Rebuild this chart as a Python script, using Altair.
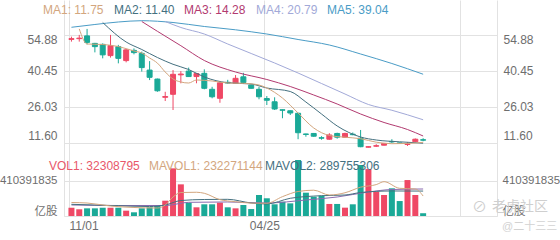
import altair as alt
import pandas as pd

# ---------------- data ----------------
week_idx = list(range(46))
opens  = [53.0, 53.3, 54.4, 51.4, 51.0, 46.5, 50.1, 44.5, 48.6, 47.4,
          40.7, 37.1, 29.8, 31.0, 38.8, 40.3, 38.1, 39.4, 33.0, 29.4,
          35.8, 35.4, 38.0, 34.7, 33.0, 29.3, 28.0, 24.8, 24.4, 23.4,
          15.1, 15.3, 13.6, 13.0, 15.3, 13.8, 15.0, 13.4, 9.8, 10.2,
          10.6, 12.1, 11.5, 10.9, 12.0, 12.8]
closes = [53.3, 53.5, 51.8, 50.1, 46.8, 50.5, 45.4, 48.8, 47.7, 41.7,
          37.8, 32.4, 30.1, 39.0, 39.1, 38.1, 39.3, 33.4, 30.0, 35.6,
          35.5, 37.4, 35.7, 33.4, 30.0, 28.6, 25.1, 24.6, 23.5, 15.6,
          14.9, 14.2, 13.4, 14.7, 13.8, 15.3, 14.8, 10.0, 10.0, 10.4,
          11.3, 11.9, 11.3, 11.1, 13.0, 12.6]
highs  = [54.1, 54.8, 57.2, 51.6, 51.4, 54.8, 50.8, 49.2, 49.4, 48.1,
          44.3, 37.3, 32.0, 40.7, 40.3, 41.7, 39.5, 41.0, 34.0, 36.0,
          36.8, 38.7, 39.6, 34.9, 34.0, 30.3, 29.8, 24.9, 24.5, 23.6,
          15.2, 15.5, 14.2, 15.4, 15.6, 15.6, 15.7, 16.7, 10.1, 11.0,
          11.5, 13.0, 11.6, 11.8, 13.3, 13.4]
lows   = [52.1, 52.1, 51.0, 47.8, 45.4, 45.7, 43.4, 43.8, 47.0, 40.1,
          36.7, 32.0, 28.3, 24.7, 35.4, 38.0, 35.4, 33.0, 29.4, 27.6,
          35.3, 35.3, 35.6, 33.3, 29.0, 26.7, 24.7, 21.4, 22.7, 13.0,
          14.0, 14.0, 12.8, 12.8, 13.2, 13.7, 14.6, 9.8, 9.7, 9.9,
          10.5, 11.5, 11.2, 10.3, 11.9, 12.2]
volumes = [96000000, 78000000, 89000000, 89000000, 96000000, 96000000, 96000000, 62000000, 43000000, 89000000,
           101000000, 120000000, 178000000, 554000000, 368000000, 155000000, 101000000, 136000000, 136000000, 155000000,
           101000000, 89000000, 128000000, 81000000, 244000000, 206000000, 136000000, 166000000, 147000000, 651000000,
           271000000, 224000000, 236000000, 140000000, 140000000, 97000000, 136000000, 593000000, 546000000, 283000000,
           244000000, 322000000, 174000000, 418000000, 244000000, 32308795]

ma1_idx = [1, 2, 4, 6, 8, 9, 10, 11, 12, 13, 14, 15, 16, 18, 20, 22, 24, 25, 27, 29, 31, 33, 35, 37, 39, 41, 43, 45]
ma1_val = [57.2, 51.15, 50.95, 50.15, 48.35, 47.55, 45.54, 43.5, 39.93, 37.13, 35.93, 35.52, 36.73, 36.33,
           35.52, 35.4, 34.72, 33.52, 29.5, 23.5, 17.5, 14.5, 13.8, 13.2, 11.8, 11.2, 11.3, 11.75]
ma2_idx = [4, 7, 9, 11, 13, 15, 17, 20, 23, 25, 28, 30, 32, 34, 37, 39, 42, 45]
ma2_val = [59.77, 51.95, 48.95, 45.74, 43.02, 40.93, 37.93, 35.64, 35.12, 33.52, 32.12, 27.9, 23.1, 18.3,
           13.88, 12.68, 11.96, 11.40]
ma3_idx = [9, 11, 14, 17, 21, 25, 28, 31, 34, 37, 40, 43, 45]
ma3_val = [60.17, 56.24, 50.47, 44.54, 39.93, 36.93, 34.12, 30.72, 27.11, 23.1, 19.7, 16.89, 14.28]
ma4_idx = [12, 14, 17, 20, 23, 26, 29, 32, 35, 38, 41, 45]
ma4_val = [60.17, 57.77, 55.16, 51.15, 47.35, 43.54, 39.53, 35.32, 31.12, 26.91, 24.6, 20.79]
ma5_idx = [0, 3, 6, 9, 13, 17, 21, 25, 29, 33, 37, 41, 45]
ma5_val = [57.85, 58.97, 59.97, 60.49, 59.77, 58.17, 56.84, 55.16, 52.96, 50.75, 47.15, 43.34, 39.04]

mavol1_idx = [0, 2, 5, 8, 11, 12, 13, 14, 16, 17, 19, 21, 23, 25, 27, 29, 31, 33, 35, 37, 39, 40, 42, 44, 45]
mavol1_val = [157e6, 151e6, 116e6, 99e6, 93e6, 128e6, 221e6, 273e6, 276e6, 264e6, 190e6, 166e6, 150e6, 148e6,
              225e6, 285e6, 300e6, 244e6, 270e6, 335e6, 365e6, 399e6, 322e6, 314e6, 232271144]
mavol2_idx = [0, 5, 10, 12, 14, 17, 20, 23, 25, 28, 32, 35, 37, 41, 45]
mavol2_val = [136e6, 122e6, 110e6, 128e6, 180e6, 192e6, 194e6, 151e6, 140e6, 206e6, 236e6, 244e6, 273e6,
              291e6, 289755306]
mavol3_idx = [0, 6, 12, 15, 20, 25, 30, 34, 38, 41, 45]
mavol3_val = [128e6, 122e6, 122e6, 159e6, 163e6, 151e6, 186e6, 221e6, 279e6, 308e6, 314e6]

x_tick_idx = [0, 25, 50]
x_tick_text = ["11/01", "04/25", ""]
price_ticks = [11.60, 26.03, 40.45, 54.88]
vol_ticks = [0, 410391835]
vol_tick_text = ["亿股", "410391835"]
watermark_main = "老虎社区"
watermark_user = "@二十三三"

# ---------------- styles ----------------
UP, DOWN = "#ef4865", "#1aa997"
C_MA1, C_MA2, C_MA3, C_MA4, C_MA5 = "#d3a67e", "#44707f", "#b23a70", "#a2a9d8", "#4a9cc6"
C_MV3 = "#8a6bb0"
GRID = "#e2e2e2"
LABEL = "#6e6e6e"
FONT = "Liberation Sans, Noto Sans CJK SC, sans-serif"

df = pd.DataFrame({"i": week_idx, "open": opens, "close": closes, "high": highs, "low": lows, "vol": volumes})
df["dir"] = ["up" if c >= o else "down" for o, c in zip(opens, closes)]

color = alt.Color("dir:N", scale=alt.Scale(domain=["up", "down"], range=[UP, DOWN]), legend=None)
stroke = alt.Stroke("dir:N", scale=alt.Scale(domain=["up", "down"], range=[UP, DOWN]), legend=None)

x_expr = " : ".join(f"datum.value == {v} ? '{t}'" for v, t in zip(x_tick_idx, x_tick_text)) + " : ''"
xaxis = alt.Axis(values=x_tick_idx, labelExpr=x_expr, grid=True, gridColor=GRID, domainColor=GRID,
                 ticks=False, tickOffset=-2.5, labelPadding=4, labelBaseline="top", labelFlush=False,
                 labelAlign={"condition": {"test": "datum.value == 0", "value": "left"}, "value": "center"},
                 labelColor=LABEL, labelFont=FONT, labelFontSize=12, title=None)
xscale = alt.Scale(domain=[-0.3125, 53.8125], nice=False, zero=False)
X = alt.X("i:Q", scale=xscale, axis=xaxis)

pscale = alt.Scale(domain=[-17.774, 68.786], nice=False, zero=False)
p_baseline = {"condition": [{"test": "datum.value > 50", "value": "top"},
                            {"test": "datum.value < 20", "value": "bottom"}], "value": "middle"}


def price_axis(orient, grid, pad):
    return alt.Axis(orient=orient, values=price_ticks, format=".2f", grid=grid, gridColor=GRID,
                    domain=True, domainColor=GRID, ticks=False, labelPadding=pad,
                    labelBaseline=p_baseline, labelColor=LABEL, labelFont=FONT, labelFontSize=12,
                    title=None)


vscale = alt.Scale(domain=[0, 2511200000], nice=False, zero=True)
v_expr = " : ".join(f"datum.value == {v} ? '{t}'" for v, t in zip(vol_ticks, vol_tick_text)) + " : ''"
v_baseline = {"condition": {"test": "datum.value == 0", "value": "bottom"}, "value": "middle"}


def vol_axis(orient, grid, pad):
    return alt.Axis(orient=orient, values=vol_ticks, labelExpr=v_expr, grid=grid, gridColor=GRID,
                    domain=False, ticks=False, labelPadding=pad, labelBaseline=v_baseline,
                    labelColor=LABEL, labelFont=FONT, labelFontSize=11.5, title=None)


base = alt.Chart(df)

wicks = base.mark_rule(strokeWidth=1).encode(
    x=X, y=alt.Y("low:Q", scale=pscale, axis=price_axis("left", True, 7)), y2="high:Q", color=color)
bodies = base.mark_bar(size=5, strokeWidth=1).encode(
    x=X, y=alt.Y("open:Q", scale=pscale, axis=price_axis("right", False, 6)), y2="close:Q",
    color=color, stroke=stroke)


def line_layer(idx, vals, col, scale):
    d = pd.DataFrame({"i": idx, "v": vals})
    return alt.Chart(d).mark_line(color=col, strokeWidth=1, interpolate="monotone").encode(
        x=X, y=alt.Y("v:Q", scale=scale, axis=None))


price = alt.layer(
    wicks, bodies,
    line_layer(ma5_idx, ma5_val, C_MA5, pscale),
    line_layer(ma4_idx, ma4_val, C_MA4, pscale),
    line_layer(ma3_idx, ma3_val, C_MA3, pscale),
    line_layer(ma2_idx, ma2_val, C_MA2, pscale),
    line_layer(ma1_idx, ma1_val, C_MA1, pscale),
).resolve_axis(y="independent")

vbars = base.mark_bar(size=6).encode(
    x=X, y=alt.Y("vol:Q", scale=vscale, axis=vol_axis("left", True, 7)), color=color)
mv1 = alt.Chart(pd.DataFrame({"i": mavol1_idx, "v": mavol1_val})).mark_line(
    color=C_MA1, strokeWidth=1, interpolate="monotone").encode(
    x=X, y=alt.Y("v:Q", scale=vscale, axis=vol_axis("right", False, 5)))

vol = alt.layer(
    vbars,
    line_layer(mavol3_idx, mavol3_val, C_MV3, vscale),
    line_layer(mavol2_idx, mavol2_val, C_MA2, vscale),
    mv1,
).resolve_axis(y="independent")

one = pd.DataFrame({"k": [0]})


def label(text, x, y, col, size=12, opacity=1.0, weight="normal"):
    return alt.Chart(one).mark_text(align="left", baseline="middle", font=FONT, fontSize=size,
                                    color=col, opacity=opacity, fontWeight=weight).encode(
        x=alt.value(x), y=alt.value(y), text=alt.value(text))


legends = [
    label(f"MA1: {ma1_val[-1]:.2f}", -21, 10, C_MA1),
    label(f"MA2: {ma2_val[-1]:.2f}", 50, 10, C_MA2),
    label(f"MA3: {ma3_val[-1]:.2f}", 120, 10, C_MA3),
    label(f"MA4: {ma4_val[-1]:.2f}", 192, 10, C_MA4),
    label(f"MA5: {ma5_val[-1]:.2f}", 263, 10, C_MA5),
    label(f"VOL1: {volumes[-1]}", -15, 166, "#e8576a"),
    label(f"MAVOL1: {int(mavol1_val[-1])}", 85, 166, C_MA1),
    label(f"MAVOL2: {int(mavol2_val[-1])}", 201, 166, C_MA2),
    label("⊘", 408, 207, "#cfcfcf", size=15),
    label(watermark_main, 428, 207, "#cfcfcf", size=14),
    label(watermark_user, 438, 227, "#d2d2d2", size=11),
]

chart = alt.layer(price, vol, *legends).resolve_scale(
    y="independent"
).properties(
    width=433, height=216, autosize="none",
    padding={"left": 64, "top": 0, "right": 63, "bottom": 24},
    background="white",
).configure_view(strokeOpacity=0)

chart.save("out.html", embed_options={"renderer": "svg", "actions": False})
